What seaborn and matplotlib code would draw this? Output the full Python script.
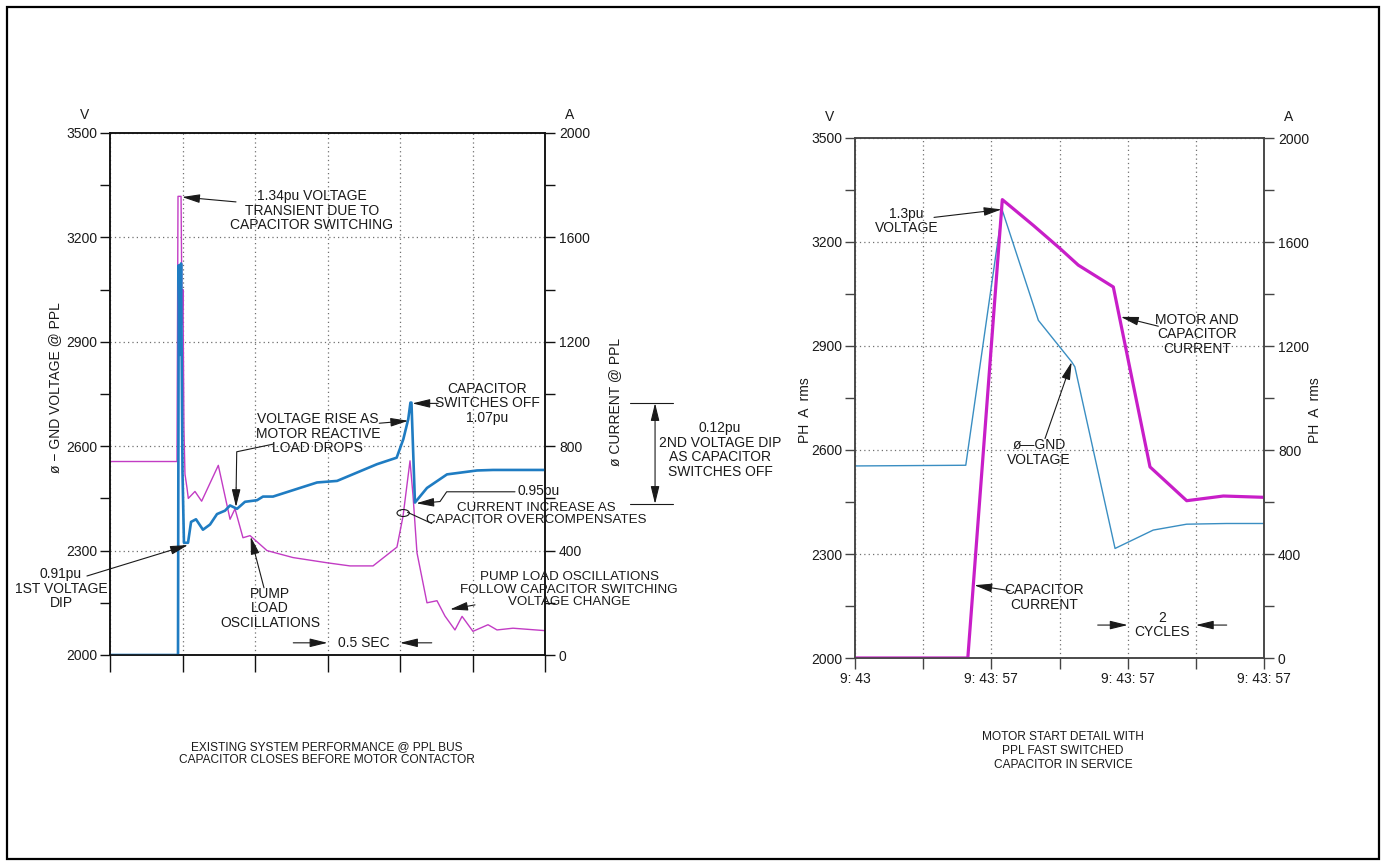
import matplotlib
matplotlib.use("Agg")
import matplotlib.pyplot as plt
from matplotlib.patches import Ellipse, Rectangle
from matplotlib.ticker import FixedLocator, NullFormatter
import pandas as pd
import seaborn as sns

# ---------------- left panel: existing system, time in seconds ----------------
bus_t = [0.0, 0.462, 0.469, 0.490, 0.497, 0.503, 0.510, 0.517, 0.531, 0.540,
         0.586, 0.632, 0.747, 0.828, 0.862, 0.917, 0.966, 1.083, 1.262, 1.497,
         1.655, 1.814, 1.979, 2.021, 2.069, 2.090, 2.117, 2.186, 2.255, 2.310,
         2.379, 2.428, 2.503, 2.607, 2.669, 2.779, 3.0]
bus_volts = [2556, 2556, 3318, 3318, 2950, 3050, 2650, 2520, 2480, 2450,
             2470, 2442, 2545, 2390, 2420, 2337, 2343, 2300, 2280, 2265,
             2256, 2256, 2310, 2399, 2558, 2457, 2294, 2150, 2156, 2112,
             2072, 2111, 2068, 2087, 2072, 2077, 2070]

amp_t = [0.0, 0.469, 0.474, 0.483, 0.490, 0.500, 0.510, 0.538, 0.559, 0.593,
         0.641, 0.690, 0.738, 0.793, 0.828, 0.876, 0.931, 1.014, 1.055, 1.124,
         1.428, 1.566, 1.841, 1.977, 2.023, 2.057, 2.072, 2.079, 2.103, 2.186,
         2.324, 2.531, 2.641, 3.0]
amp_amps = [0, 0, 1493, 1150, 1500, 700, 430, 430, 510, 520,
            480, 500, 540, 553, 573, 560, 587, 593, 607, 607,
            661, 667, 731, 756, 827, 904, 967, 967, 584, 640,
            692, 707, 709, 709]

left_v_major = [2000, 2300, 2600, 2900, 3200, 3500]
left_v_minor = [2150, 2450, 2750, 3050, 3350]
left_a_major = [0, 400, 800, 1200, 1600, 2000]
left_a_minor = [200, 600, 1000, 1400, 1800]
left_t_ticks = [0.0, 0.5, 1.0, 1.5, 2.0, 2.5, 3.0]

# ---------------- right panel: start detail, time in cycles ----------------
gnd_c = [0.0, 1.64, 3.25, 4.32, 5.38, 6.36, 6.45, 7.63, 8.75, 9.73, 10.9, 12.0]
gnd_volts = [2554, 2555, 2556, 3292, 2974, 2854, 2840, 2316, 2369, 2386, 2388, 2388]

cur_c = [0.0, 3.31, 4.322, 5.231, 6.015, 6.552, 7.579, 8.655, 9.732, 10.806, 12.0]
cur_amps = [0, 0, 1763, 1664, 1575, 1511, 1427, 735, 605, 623, 618]

right_c_ticks = [0, 2, 4, 6, 8, 10, 12]
right_c_labels = ["9: 43", "", "9: 43: 57", "", "9: 43: 57", "", "9: 43: 57"]

BLUE_THICK = "#1f7cc2"
MAG_THIN = "#c23cc4"
MAG_THICK = "#c81ec8"
BLUE_THIN = "#3a8ec2"
INK = "#1a1a1a"
GRID = "#707070"

sns.set_style("white")
plt.rcParams["font.family"] = ["Liberation Sans", "DejaVu Sans"]
plt.rcParams["text.color"] = INK

fig = plt.figure(figsize=(13.82, 8.63), dpi=100)
W, H = 1382.0, 863.0


def px_axes(x0, y0, x1, y1):
    return fig.add_axes([x0 / W, 1 - y1 / H, (x1 - x0) / W, (y1 - y0) / H])


def style_pair(ax, ax2, vmaj, vmin, amaj, amin, xt, xlen, spine_color):
    ax.set_ylim(2000, 3500)
    ax2.set_ylim(0, 2000)
    ax.yaxis.set_major_locator(FixedLocator(vmaj))
    ax.yaxis.set_minor_locator(FixedLocator(vmin))
    ax2.yaxis.set_major_locator(FixedLocator(amaj))
    ax2.yaxis.set_minor_locator(FixedLocator(amin))
    ax2.yaxis.set_minor_formatter(NullFormatter())
    ax.yaxis.set_minor_formatter(NullFormatter())
    ax.xaxis.set_major_locator(FixedLocator(xt))
    for a in (ax, ax2):
        a.set_xlabel("")
        a.set_ylabel("")
        for s in a.spines.values():
            s.set_visible(True)
            s.set_color(spine_color)
            s.set_linewidth(1.1)
    ax.tick_params(axis="y", which="both", direction="out", length=7, width=1,
                   color=spine_color, pad=2, labelsize=10, labelcolor=INK,
                   left=True, right=False)
    ax2.tick_params(axis="y", which="both", direction="out", length=7, width=1,
                    color=spine_color, pad=3, labelsize=10, labelcolor=INK,
                    left=False, right=True)
    ax.tick_params(axis="x", which="major", direction="out", length=xlen, width=1,
                   color=spine_color, pad=2, labelsize=10, labelcolor=INK,
                   bottom=True)
    ax.grid(True, which="major", axis="both", color=GRID, linestyle=(0, (1, 2.5)),
            linewidth=0.9)
    ax2.grid(False)
    ax.set_zorder(1)
    ax2.set_zorder(2)
    ax2.patch.set_visible(False)


def arrow(ax2, tdata, tail, head, lw=0.8):
    ax2.annotate("", xy=head, xytext=tail, xycoords=tdata, textcoords=tdata,
                 arrowprops=dict(arrowstyle="-|>,head_length=0.9,head_width=0.22",
                                 mutation_scale=12, lw=lw, color=INK,
                                 shrinkA=0, shrinkB=0))


def label(ax2, tdata, x, y, s, ha="center", size=10):
    ax2.text(x, y, s, transform=tdata, ha=ha, va="center", fontsize=size,
             linespacing=1.05, color=INK, clip_on=False)


def path(ax2, tdata, pts):
    xs = [p[0] for p in pts]
    ys = [p[1] for p in pts]
    ax2.plot(xs, ys, transform=tdata, color=INK, lw=0.8, clip_on=False)


# ======================= left panel =======================
axL = px_axes(110, 133, 545, 655)
axL2 = axL.twinx()
axL.set_xlim(0, 3.0)
axL2.set_xlim(0, 3.0)

bus_df = pd.DataFrame({"t": bus_t, "volts": bus_volts})
amp_df = pd.DataFrame({"t": amp_t, "amps": amp_amps})
sns.lineplot(data=bus_df, x="t", y="volts", ax=axL, color=MAG_THIN, lw=1.0,
             estimator=None, sort=False)
sns.lineplot(data=amp_df, x="t", y="amps", ax=axL2, color=BLUE_THICK, lw=1.9,
             estimator=None, sort=False)

style_pair(axL, axL2, left_v_major, left_v_minor, left_a_major, left_a_minor,
           left_t_ticks, 12, "#111111")
axL.xaxis.set_major_formatter(NullFormatter())

tL = axL.transData
label(axL2, tL, -0.172, 3552, "V")
label(axL2, tL, 3.172, 3552, "A")

label(axL2, tL, 1.393, 3277, "1.34pu VOLTAGE\nTRANSIENT DUE TO\nCAPACITOR SWITCHING")
arrow(axL2, tL, (0.869, 3302), (0.497, 3316))

label(axL2, tL, 2.6, 2723, "CAPACITOR\nSWITCHES OFF\n1.07pu")
arrow(axL2, tL, (2.264, 2723), (2.085, 2723))

label(axL2, tL, 1.434, 2636, "VOLTAGE RISE AS\nMOTOR REACTIVE\nLOAD DROPS")
arrow(axL2, tL, (1.857, 2666), (2.057, 2673))
path(axL2, tL, [(1.126, 2606), (0.874, 2584), (0.870, 2480)])
arrow(axL2, tL, (0.870, 2480), (0.869, 2425))

label(axL2, tL, -0.338, 2191, "0.91pu\n1ST VOLTAGE\nDIP")
arrow(axL2, tL, (-0.159, 2227), (0.538, 2316))

label(axL2, tL, 1.103, 2134, "PUMP\nLOAD\nOSCILLATIONS")
arrow(axL2, tL, (1.062, 2193), (0.970, 2340))

label(axL2, tL, 1.747, 2035, "0.5 SEC")
arrow(axL2, tL, (1.264, 2035), (1.5, 2035))
arrow(axL2, tL, (2.219, 2035), (2.0, 2035))

label(axL2, tL, 2.81, 2470, "0.95pu", ha="left")
path(axL2, tL, [(2.793, 2469), (2.322, 2469), (2.276, 2441), (2.20, 2438)])
arrow(axL2, tL, (2.20, 2438), (2.112, 2436))

label(axL2, tL, 2.938, 2405, "CURRENT INCREASE AS\nCAPACITOR OVERCOMPENSATES",
      size=9.6)
path(axL2, tL, [(2.219, 2378), (2.052, 2410)])
axL2.add_patch(Ellipse((2.022, 2408), 0.085, 20, transform=tL, fill=False,
                       edgecolor=INK, lw=0.8, clip_on=False))

label(axL2, tL, 3.166, 2187,
      "PUMP LOAD OSCILLATIONS\nFOLLOW CAPACITOR SWITCHING\nVOLTAGE CHANGE", size=9.6)
arrow(axL2, tL, (2.517, 2144), (2.345, 2131))

# dimension marks for the second dip
path(axL2, tL, [(3.586, 2724), (3.881, 2724)])
path(axL2, tL, [(3.586, 2434), (3.881, 2434)])
axL2.annotate("", xy=(3.759, 2724), xytext=(3.759, 2434), xycoords=tL, textcoords=tL,
              arrowprops=dict(arrowstyle="<|-|>,head_length=0.9,head_width=0.22",
                              mutation_scale=12, lw=0.8, color=INK,
                              shrinkA=0, shrinkB=0))
label(axL2, tL, 4.207, 2589, "0.12pu\n2ND VOLTAGE DIP\nAS CAPACITOR\nSWITCHES OFF")

fig.text(55 / W, 1 - 388 / H, "ø − GND VOLTAGE @ PPL", rotation=90, ha="center",
         va="center", fontsize=10, color=INK)
fig.text(615 / W, 1 - 402 / H, "ø CURRENT @ PPL", rotation=90, ha="center",
         va="center", fontsize=10, color=INK)

fig.text(327 / W, 1 - 754 / H,
         "EXISTING SYSTEM PERFORMANCE @ PPL BUS\nCAPACITOR CLOSES BEFORE MOTOR CONTACTOR",
         ha="center", va="center", fontsize=8.6, linespacing=1.1, color=INK)

# ======================= right panel =======================
axR = px_axes(855, 138, 1264, 658)
axR2 = axR.twinx()
axR.set_xlim(0, 12)
axR2.set_xlim(0, 12)

gnd_df = pd.DataFrame({"cycles": gnd_c, "volts": gnd_volts})
cur_df = pd.DataFrame({"cycles": cur_c, "amps": cur_amps})
sns.lineplot(data=gnd_df, x="cycles", y="volts", ax=axR, color=BLUE_THIN, lw=1.0,
             estimator=None, sort=False)
sns.lineplot(data=cur_df, x="cycles", y="amps", ax=axR2, color=MAG_THICK, lw=2.3,
             estimator=None, sort=False)

style_pair(axR, axR2, left_v_major, left_v_minor, left_a_major, left_a_minor,
           right_c_ticks, 8, "#444444")
axR.set_xticklabels(right_c_labels)

tR = axR.transData
label(axR2, tR, -0.734, 3561, "V")
label(axR2, tR, 12.713, 3561, "A")

label(axR2, tR, 1.511, 3260, "1.3pu\nVOLTAGE")
arrow(axR2, tR, (2.318, 3271), (4.30, 3294))

label(axR2, tR, 10.03, 2934, "MOTOR AND\nCAPACITOR\nCURRENT")
arrow(axR2, tR, (8.9, 2957), (7.80, 2984))

label(axR2, tR, 5.399, 2592, "ø—GND\nVOLTAGE")
arrow(axR2, tR, (5.575, 2633), (6.357, 2854))

label(axR2, tR, 5.554, 2174, "CAPACITOR\nCURRENT")
arrow(axR2, tR, (4.548, 2194), (3.50, 2210))

label(axR2, tR, 9.007, 2095, "2\nCYCLES")
arrow(axR2, tR, (7.121, 2095), (8.0, 2095))
arrow(axR2, tR, (10.906, 2095), (10.0, 2095))

fig.text(805 / W, 1 - 410 / H, "PH  A  rms", rotation=90, ha="center", va="center",
         fontsize=10, color=INK)
fig.text(1315 / W, 1 - 410 / H, "PH  A  rms", rotation=90, ha="center", va="center",
         fontsize=10, color=INK)

fig.text(1063 / W, 1 - 751 / H,
         "MOTOR START DETAIL WITH\nPPL FAST SWITCHED\nCAPACITOR IN SERVICE",
         ha="center", va="center", fontsize=8.6, linespacing=1.2, color=INK)

# sheet border
fig.patches.append(Rectangle((7 / W, 4 / H), (1379 - 7) / W, (859 - 7) / H,
                             transform=fig.transFigure, fill=False,
                             edgecolor="#000000", lw=1.6))

fig.savefig("out.png", dpi=100, facecolor="white")
